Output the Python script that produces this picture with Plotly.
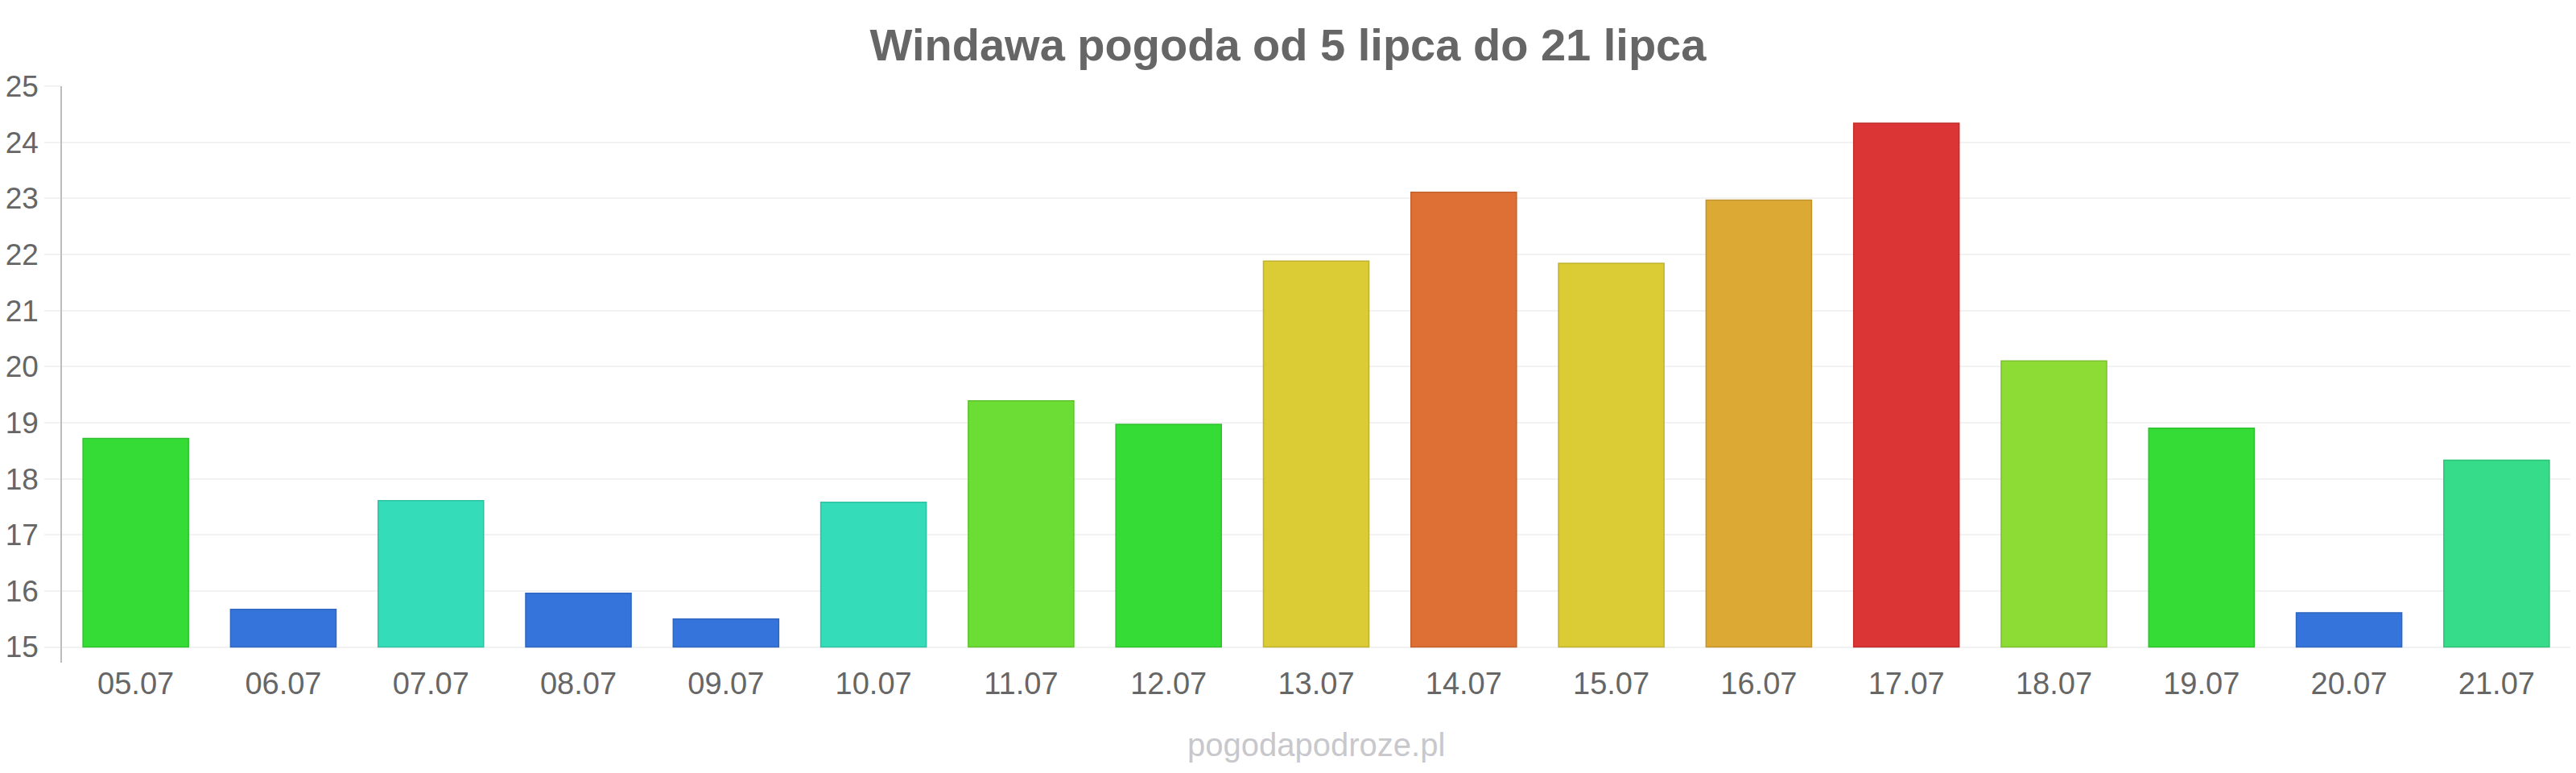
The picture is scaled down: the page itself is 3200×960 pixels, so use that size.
import plotly.graph_objects as go

dates = ["05.07", "06.07", "07.07", "08.07", "09.07", "10.07", "11.07", "12.07", "13.07",
         "14.07", "15.07", "16.07", "17.07", "18.07", "19.07", "20.07", "21.07"]
temps = [18.72, 15.67, 17.61, 15.96, 15.5, 17.58, 19.39, 18.97, 21.88,
         23.11, 21.84, 22.97, 24.34, 20.1, 18.9, 15.61, 18.33]
colors = ["#36dc36", "#3575db", "#35dcb9", "#3575db", "#3575db", "#35dcb9", "#6cdd35", "#36dc36", "#dbcb35",
          "#de7035", "#dbcb35", "#dca935", "#db3535", "#8cdc35", "#36dc36", "#3575db", "#36dc8a"]
title_text = "Windawa pogoda od 5 lipca do 21 lipca"
watermark = "pogodapodroze.pl"
y_base = 15


def darker(hex_color, f=0.88):
    h = hex_color.lstrip("#")
    r, g, b = (int(h[i:i + 2], 16) for i in (0, 2, 4))
    return "rgb(%d,%d,%d)" % (r * f, g * f, b * f)


fig = go.Figure(
    go.Bar(
        x=dates,
        y=[t - y_base for t in temps],
        base=y_base,
        marker=dict(color=colors, line=dict(color=[darker(c) for c in colors], width=1.5)),
        hoverinfo="skip",
    )
)

fig.update_layout(
    width=3200,
    height=960,
    margin=dict(l=77, r=7, t=107, b=137),
    paper_bgcolor="white",
    plot_bgcolor="white",
    bargap=0.285,
    showlegend=False,
    font=dict(family="Liberation Sans, Arial, sans-serif", color="#666666"),
    title=dict(
        text="<b>" + title_text + "</b>",
        x=0.5,
        xanchor="center",
        y=1 - 55 / 960,
        yanchor="middle",
        font=dict(size=56, color="#666666", family="Liberation Sans, Arial, sans-serif"),
    ),
    xaxis=dict(
        type="category",
        showgrid=False,
        showline=False,
        ticks="",
        tickfont=dict(size=38, color="#666666"),
        zeroline=False,
    ),
    yaxis=dict(
        range=[14.72, 25],
        tick0=15,
        dtick=1,
        showgrid=True,
        gridcolor="#f2f2f2",
        gridwidth=2,
        showline=True,
        linecolor="#bdbdbd",
        linewidth=1.5,
        ticks="outside",
        ticklen=20,
        tickcolor="#f2f2f2",
        tickwidth=2,
        tickfont=dict(size=37, color="#666666"),
        zeroline=False,
    ),
    annotations=[
        dict(
            text=watermark,
            xref="paper",
            yref="paper",
            x=0.5,
            y=-(925 - 823) / 716,
            xanchor="center",
            yanchor="middle",
            showarrow=False,
            font=dict(size=40, color="#c8c8cc", family="Liberation Sans, Arial, sans-serif"),
        )
    ],
)

fig.write_html("out.html")
